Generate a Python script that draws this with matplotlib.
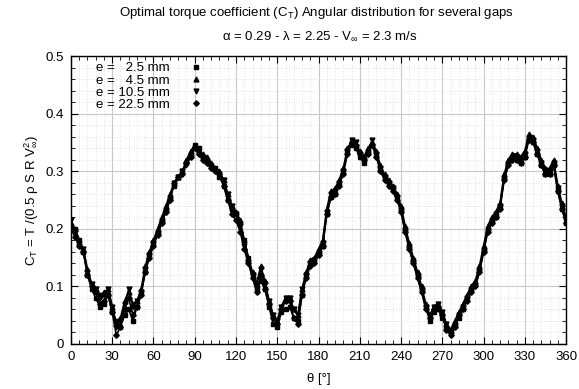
import matplotlib
matplotlib.use("Agg")
import matplotlib.pyplot as plt
from matplotlib.ticker import MultipleLocator
from matplotlib.lines import Line2D

plt.rcParams['font.family'] = ['Liberation Sans', 'DejaVu Sans']
plt.rcParams['mathtext.default'] = 'regular'

theta = list(range(0, 361, 3))

ct_2_5 = [
    0.205,0.200,0.180,0.160,0.120,0.095,0.080,0.065,0.070,0.085,
    0.055,0.040,0.030,0.050,0.060,0.040,0.065,0.090,0.125,0.155,
    0.175,0.195,0.215,0.235,0.255,0.275,0.290,0.300,0.315,0.330,
    0.345,0.340,0.325,0.320,0.310,0.305,0.290,0.275,0.250,0.235,
    0.225,0.210,0.180,0.150,0.120,0.095,0.110,0.095,0.065,0.035,
    0.030,0.055,0.060,0.065,0.045,0.040,0.085,0.120,0.140,0.145,
    0.160,0.170,0.225,0.255,0.260,0.280,0.300,0.335,0.345,0.340,
    0.325,0.315,0.335,0.345,0.330,0.305,0.290,0.280,0.270,0.255,
    0.235,0.200,0.170,0.145,0.120,0.095,0.065,0.040,0.055,0.060,
    0.045,0.030,0.025,0.035,0.045,0.060,0.080,0.095,0.105,0.130,
    0.165,0.200,0.215,0.220,0.240,0.290,0.315,0.325,0.320,0.315,
    0.325,0.360,0.350,0.330,0.310,0.295,0.295,0.310,0.265,0.235,
    0.210]

ct_4_5 = [
    0.210,0.200,0.180,0.165,0.130,0.105,0.095,0.085,0.090,0.095,
    0.065,0.035,0.045,0.075,0.090,0.070,0.075,0.095,0.135,0.160,
    0.180,0.200,0.220,0.240,0.260,0.280,0.290,0.300,0.320,0.335,
    0.345,0.335,0.330,0.325,0.315,0.305,0.300,0.285,0.260,0.240,
    0.230,0.215,0.180,0.150,0.125,0.105,0.135,0.110,0.075,0.050,
    0.040,0.065,0.080,0.080,0.060,0.050,0.095,0.125,0.145,0.150,
    0.165,0.180,0.235,0.265,0.270,0.285,0.305,0.340,0.350,0.345,
    0.335,0.325,0.340,0.350,0.335,0.310,0.295,0.285,0.275,0.260,
    0.240,0.205,0.175,0.150,0.125,0.100,0.070,0.050,0.065,0.070,
    0.055,0.035,0.025,0.040,0.055,0.070,0.085,0.100,0.110,0.135,
    0.170,0.205,0.220,0.230,0.245,0.295,0.320,0.330,0.330,0.325,
    0.335,0.365,0.360,0.340,0.320,0.305,0.305,0.320,0.275,0.245,
    0.220]

ct_10_5 = [
    0.215,0.195,0.170,0.165,0.125,0.105,0.095,0.080,0.085,0.095,
    0.065,0.030,0.040,0.070,0.095,0.065,0.075,0.090,0.130,0.155,
    0.175,0.190,0.210,0.230,0.250,0.280,0.290,0.300,0.310,0.325,
    0.340,0.330,0.320,0.315,0.305,0.300,0.295,0.285,0.260,0.240,
    0.225,0.205,0.170,0.140,0.120,0.105,0.130,0.105,0.075,0.050,
    0.040,0.065,0.080,0.080,0.060,0.050,0.095,0.120,0.140,0.145,
    0.155,0.175,0.230,0.260,0.265,0.280,0.300,0.335,0.355,0.350,
    0.330,0.320,0.330,0.355,0.330,0.305,0.290,0.280,0.270,0.255,
    0.230,0.195,0.165,0.140,0.115,0.090,0.065,0.050,0.065,0.070,
    0.055,0.035,0.015,0.030,0.050,0.065,0.080,0.090,0.100,0.125,
    0.160,0.195,0.210,0.225,0.240,0.285,0.310,0.320,0.325,0.320,
    0.330,0.355,0.355,0.335,0.315,0.300,0.300,0.315,0.270,0.240,
    0.215]

ct_22_5 = [
    0.200,0.185,0.170,0.160,0.120,0.100,0.090,0.070,0.075,0.085,
    0.055,0.015,0.030,0.060,0.080,0.050,0.065,0.085,0.125,0.150,
    0.170,0.190,0.210,0.230,0.250,0.280,0.290,0.295,0.315,0.325,
    0.340,0.330,0.320,0.315,0.305,0.300,0.295,0.275,0.250,0.225,
    0.215,0.195,0.165,0.140,0.115,0.090,0.120,0.095,0.070,0.045,
    0.035,0.060,0.075,0.075,0.045,0.035,0.085,0.115,0.135,0.140,
    0.155,0.170,0.225,0.255,0.260,0.275,0.295,0.330,0.350,0.345,
    0.330,0.320,0.330,0.345,0.325,0.300,0.285,0.275,0.265,0.250,
    0.230,0.195,0.165,0.140,0.115,0.090,0.060,0.045,0.060,0.065,
    0.050,0.025,0.015,0.030,0.050,0.060,0.075,0.090,0.100,0.125,
    0.160,0.195,0.210,0.220,0.235,0.285,0.310,0.320,0.320,0.315,
    0.325,0.355,0.350,0.330,0.310,0.295,0.295,0.310,0.265,0.235,
    0.210]

labels = ['e =   2.5 mm', 'e =   4.5 mm', 'e = 10.5 mm', 'e = 22.5 mm']
yticklabels = ['0', '0.1', '0.2', '0.3', '0.4', '0.5']
markers = ['s', '^', 'v', 'D']
msizes = [3.5, 3.5, 3.5, 2.8]
series = [ct_2_5, ct_4_5, ct_10_5, ct_22_5]

fig = plt.figure(figsize=(5.79, 3.89), dpi=100)
ax = fig.add_axes([0.1226, 0.1157, 0.855, 0.7403])

for y, lab, m, ms in zip(series, labels, markers, msizes):
    ax.plot(theta, y, color='black', lw=1.2, marker=m, ms=ms, label=lab)

ax.set_xlim(0, 360)
ax.set_ylim(0, 0.5)
ax.xaxis.set_major_locator(MultipleLocator(30))
ax.xaxis.set_minor_locator(MultipleLocator(6))
ax.yaxis.set_minor_locator(MultipleLocator(0.02))
ax.set_yticks([0, 0.1, 0.2, 0.3, 0.4, 0.5])
ax.set_yticklabels(yticklabels)

ax.grid(which='major', color='#c8c8c8', lw=0.8, ls='-')
ax.grid(which='minor', color='#d8d8d8', lw=0.6, ls=(0, (1, 2)))
ax.set_axisbelow(True)
ax.tick_params(which='both', direction='in', top=True, right=True, labelsize=9.5, color='black')
ax.tick_params(which='major', length=5, width=0.8, pad=5)
ax.tick_params(which='minor', length=3, width=0.6)
for s in ax.spines.values():
    s.set_linewidth(1.0)
    s.set_color('black')

ax.set_xlabel('θ [°]', fontsize=9.5, labelpad=7)
ax.set_ylabel('C$_T$ = T /(0.5 ρ S R V$_\\infty^2$)', fontsize=9.5, labelpad=4)

proxy = [Line2D([], [], color='black', lw=0, marker=m, ms=ms) for m, ms in zip(markers, msizes)]
ax.legend(proxy, labels, loc='upper left', bbox_to_anchor=(0.05, 0.979), frameon=False,
          markerfirst=False, handlelength=1.0, handletextpad=1.47, labelspacing=0.0,
          fontsize=9.5, borderaxespad=0.0, borderpad=0.0)

fig.text(0.547, 0.967, 'Optimal torque coefficient (C$_T$) Angular distribution for several gaps',
         ha='center', va='center', fontsize=9.5)
fig.text(0.552, 0.907, 'α = 0.29 - λ = 2.25 - V$_\\infty$ = 2.3 m/s',
         ha='center', va='center', fontsize=9.5)

fig.savefig('out.png', dpi=100)
